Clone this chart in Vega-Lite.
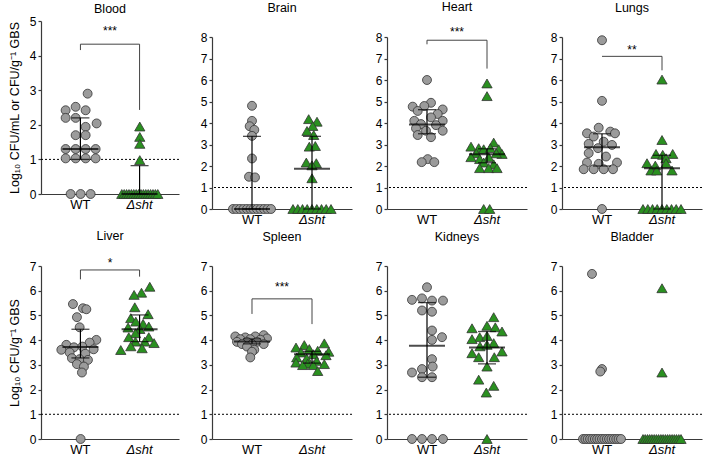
{
"$schema":"https://vega.github.io/schema/vega-lite/v6.json",
"padding":{"left":8,"top":0,"right":0,"bottom":0},
"datasets":{
"pts":[
{"organ":"Blood","group":"WT","value":2.9,"slot":0.7},{"organ":"Blood","group":"WT","value":2.52,"slot":-0.5},{"organ":"Blood","group":"WT","value":2.42,"slot":-1.5},{"organ":"Blood","group":"WT","value":2.42,"slot":0.5},{"organ":"Blood","group":"WT","value":2.2,"slot":-1.5},{"organ":"Blood","group":"WT","value":2.2,"slot":-0.5},{"organ":"Blood","group":"WT","value":2.04,"slot":1.6},{"organ":"Blood","group":"WT","value":1.94,"slot":0.5},{"organ":"Blood","group":"WT","value":1.7,"slot":-0.5},{"organ":"Blood","group":"WT","value":1.7,"slot":0.5},{"organ":"Blood","group":"WT","value":1.3,"slot":-1.5},{"organ":"Blood","group":"WT","value":1.3,"slot":-0.5},{"organ":"Blood","group":"WT","value":1.3,"slot":0.5},{"organ":"Blood","group":"WT","value":1.3,"slot":1.5},{"organ":"Blood","group":"WT","value":1.03,"slot":-1.5},{"organ":"Blood","group":"WT","value":1.03,"slot":-0.5},{"organ":"Blood","group":"WT","value":1.03,"slot":0.5},{"organ":"Blood","group":"WT","value":1.03,"slot":1.5},{"organ":"Blood","group":"WT","value":0,"slot":-1},{"organ":"Blood","group":"WT","value":0,"slot":0},{"organ":"Blood","group":"WT","value":0,"slot":1},
{"organ":"Blood","group":"Δsht","value":1.95,"slot":0},{"organ":"Blood","group":"Δsht","value":1.65,"slot":0},{"organ":"Blood","group":"Δsht","value":1.45,"slot":0},{"organ":"Blood","group":"Δsht","value":0.98,"slot":0},
{"organ":"Blood","group":"Δsht","value":0,"slot":-1.8},{"organ":"Blood","group":"Δsht","value":0,"slot":-1.56},{"organ":"Blood","group":"Δsht","value":0,"slot":-1.32},{"organ":"Blood","group":"Δsht","value":0,"slot":-1.08},{"organ":"Blood","group":"Δsht","value":0,"slot":-0.84},{"organ":"Blood","group":"Δsht","value":0,"slot":-0.6},{"organ":"Blood","group":"Δsht","value":0,"slot":-0.36},{"organ":"Blood","group":"Δsht","value":0,"slot":-0.12},{"organ":"Blood","group":"Δsht","value":0,"slot":0.12},{"organ":"Blood","group":"Δsht","value":0,"slot":0.36},{"organ":"Blood","group":"Δsht","value":0,"slot":0.6},{"organ":"Blood","group":"Δsht","value":0,"slot":0.84},{"organ":"Blood","group":"Δsht","value":0,"slot":1.08},{"organ":"Blood","group":"Δsht","value":0,"slot":1.32},{"organ":"Blood","group":"Δsht","value":0,"slot":1.56},{"organ":"Blood","group":"Δsht","value":0,"slot":1.8},

{"organ":"Brain","group":"WT","value":4.8,"slot":0},{"organ":"Brain","group":"WT","value":4.1,"slot":0},{"organ":"Brain","group":"WT","value":3.85,"slot":-0.23},{"organ":"Brain","group":"WT","value":3.68,"slot":0.23},{"organ":"Brain","group":"WT","value":3.4,"slot":0},{"organ":"Brain","group":"WT","value":2.35,"slot":0},{"organ":"Brain","group":"WT","value":1.5,"slot":-0.3},{"organ":"Brain","group":"WT","value":1.47,"slot":0.3},
{"organ":"Brain","group":"WT","value":0,"slot":-1.9},{"organ":"Brain","group":"WT","value":0,"slot":-1.55},{"organ":"Brain","group":"WT","value":0,"slot":-1.2},{"organ":"Brain","group":"WT","value":0,"slot":-0.85},{"organ":"Brain","group":"WT","value":0,"slot":-0.5},{"organ":"Brain","group":"WT","value":0,"slot":-0.15},{"organ":"Brain","group":"WT","value":0,"slot":0.15},{"organ":"Brain","group":"WT","value":0,"slot":0.5},{"organ":"Brain","group":"WT","value":0,"slot":0.85},{"organ":"Brain","group":"WT","value":0,"slot":1.2},{"organ":"Brain","group":"WT","value":0,"slot":1.55},{"organ":"Brain","group":"WT","value":0,"slot":1.9},
{"organ":"Brain","group":"Δsht","value":4.18,"slot":-0.33},{"organ":"Brain","group":"Δsht","value":4.06,"slot":0.5},{"organ":"Brain","group":"Δsht","value":3.86,"slot":0.07},{"organ":"Brain","group":"Δsht","value":3.63,"slot":-0.5},{"organ":"Brain","group":"Δsht","value":3.44,"slot":0.17},{"organ":"Brain","group":"Δsht","value":2.9,"slot":-0.27},{"organ":"Brain","group":"Δsht","value":2.93,"slot":0.33},{"organ":"Brain","group":"Δsht","value":2.16,"slot":-0.57},{"organ":"Brain","group":"Δsht","value":2.13,"slot":0.43},{"organ":"Brain","group":"Δsht","value":2.03,"slot":0},{"organ":"Brain","group":"Δsht","value":1.43,"slot":0},
{"organ":"Brain","group":"Δsht","value":0,"slot":-1.9},{"organ":"Brain","group":"Δsht","value":0,"slot":-1.42},{"organ":"Brain","group":"Δsht","value":0,"slot":-0.95},{"organ":"Brain","group":"Δsht","value":0,"slot":-0.48},{"organ":"Brain","group":"Δsht","value":0,"slot":0},{"organ":"Brain","group":"Δsht","value":0,"slot":0.48},{"organ":"Brain","group":"Δsht","value":0,"slot":0.95},{"organ":"Brain","group":"Δsht","value":0,"slot":1.42},{"organ":"Brain","group":"Δsht","value":0,"slot":1.9},

{"organ":"Heart","group":"WT","value":6.0,"slot":0},{"organ":"Heart","group":"WT","value":4.94,"slot":0.4},{"organ":"Heart","group":"WT","value":4.79,"slot":-0.27},{"organ":"Heart","group":"WT","value":4.76,"slot":-1.43},{"organ":"Heart","group":"WT","value":4.63,"slot":1.57},{"organ":"Heart","group":"WT","value":4.56,"slot":-0.93},{"organ":"Heart","group":"WT","value":4.42,"slot":1.07},{"organ":"Heart","group":"WT","value":4.26,"slot":0.4},{"organ":"Heart","group":"WT","value":4.1,"slot":-1.27},{"organ":"Heart","group":"WT","value":3.95,"slot":-0.6},{"organ":"Heart","group":"WT","value":4.1,"slot":1.57},{"organ":"Heart","group":"WT","value":3.9,"slot":0.9},{"organ":"Heart","group":"WT","value":3.75,"slot":-1.1},{"organ":"Heart","group":"WT","value":3.64,"slot":1.57},{"organ":"Heart","group":"WT","value":3.64,"slot":-0.1},{"organ":"Heart","group":"WT","value":3.44,"slot":-0.93},{"organ":"Heart","group":"WT","value":3.34,"slot":0.4},{"organ":"Heart","group":"WT","value":2.32,"slot":0.07},{"organ":"Heart","group":"WT","value":2.18,"slot":-0.53},{"organ":"Heart","group":"WT","value":2.18,"slot":0.73},
{"organ":"Heart","group":"Δsht","value":5.84,"slot":0},{"organ":"Heart","group":"Δsht","value":5.25,"slot":0},{"organ":"Heart","group":"Δsht","value":3.09,"slot":0.67},{"organ":"Heart","group":"Δsht","value":2.9,"slot":-1.6},{"organ":"Heart","group":"Δsht","value":2.83,"slot":-0.83},{"organ":"Heart","group":"Δsht","value":2.78,"slot":-0.33},{"organ":"Heart","group":"Δsht","value":2.83,"slot":0.33},{"organ":"Heart","group":"Δsht","value":2.78,"slot":1.17},{"organ":"Heart","group":"Δsht","value":2.59,"slot":-1.07},{"organ":"Heart","group":"Δsht","value":2.56,"slot":1.5},{"organ":"Heart","group":"Δsht","value":2.59,"slot":0.93},{"organ":"Heart","group":"Δsht","value":2.41,"slot":-1.6},{"organ":"Heart","group":"Δsht","value":2.32,"slot":-0.73},{"organ":"Heart","group":"Δsht","value":2.41,"slot":0.17},{"organ":"Heart","group":"Δsht","value":2.16,"slot":-0.33},{"organ":"Heart","group":"Δsht","value":2.08,"slot":0.67},{"organ":"Heart","group":"Δsht","value":1.9,"slot":-0.73},{"organ":"Heart","group":"Δsht","value":1.9,"slot":0.17},{"organ":"Heart","group":"Δsht","value":1.9,"slot":1.0},{"organ":"Heart","group":"Δsht","value":0,"slot":-0.33},{"organ":"Heart","group":"Δsht","value":0,"slot":0.27},

{"organ":"Lungs","group":"WT","value":7.85,"slot":0},{"organ":"Lungs","group":"WT","value":5.03,"slot":0},{"organ":"Lungs","group":"WT","value":3.78,"slot":-0.33},{"organ":"Lungs","group":"WT","value":3.6,"slot":0.83},{"organ":"Lungs","group":"WT","value":3.52,"slot":-1.5},{"organ":"Lungs","group":"WT","value":3.52,"slot":1.3},{"organ":"Lungs","group":"WT","value":3.37,"slot":-0.83},{"organ":"Lungs","group":"WT","value":3.13,"slot":0.17},{"organ":"Lungs","group":"WT","value":3.03,"slot":-1.33},{"organ":"Lungs","group":"WT","value":2.98,"slot":1.0},{"organ":"Lungs","group":"WT","value":2.83,"slot":-0.4},{"organ":"Lungs","group":"WT","value":2.6,"slot":-1.33},{"organ":"Lungs","group":"WT","value":2.44,"slot":0.4},{"organ":"Lungs","group":"WT","value":2.16,"slot":-1.5},{"organ":"Lungs","group":"WT","value":2.16,"slot":1.5},{"organ":"Lungs","group":"WT","value":2.1,"slot":-0.33},{"organ":"Lungs","group":"WT","value":1.85,"slot":-1.83},{"organ":"Lungs","group":"WT","value":1.85,"slot":-0.83},{"organ":"Lungs","group":"WT","value":1.85,"slot":0.17},{"organ":"Lungs","group":"WT","value":1.85,"slot":1.1},{"organ":"Lungs","group":"WT","value":0,"slot":0},
{"organ":"Lungs","group":"Δsht","value":6.02,"slot":0},{"organ":"Lungs","group":"Δsht","value":3.21,"slot":0},{"organ":"Lungs","group":"Δsht","value":2.56,"slot":-0.6},{"organ":"Lungs","group":"Δsht","value":2.56,"slot":1.07},{"organ":"Lungs","group":"Δsht","value":2.52,"slot":0.07},{"organ":"Lungs","group":"Δsht","value":2.36,"slot":0.4},{"organ":"Lungs","group":"Δsht","value":2.13,"slot":-1.5},{"organ":"Lungs","group":"Δsht","value":2.02,"slot":-0.67},{"organ":"Lungs","group":"Δsht","value":2.13,"slot":0.4},{"organ":"Lungs","group":"Δsht","value":1.79,"slot":-1.1},{"organ":"Lungs","group":"Δsht","value":1.79,"slot":-0.53},{"organ":"Lungs","group":"Δsht","value":1.79,"slot":1.0},
{"organ":"Lungs","group":"Δsht","value":0,"slot":-1.9},{"organ":"Lungs","group":"Δsht","value":0,"slot":-1.42},{"organ":"Lungs","group":"Δsht","value":0,"slot":-0.95},{"organ":"Lungs","group":"Δsht","value":0,"slot":-0.48},{"organ":"Lungs","group":"Δsht","value":0,"slot":0},{"organ":"Lungs","group":"Δsht","value":0,"slot":0.48},{"organ":"Lungs","group":"Δsht","value":0,"slot":0.95},{"organ":"Lungs","group":"Δsht","value":0,"slot":1.42},{"organ":"Lungs","group":"Δsht","value":0,"slot":1.9},

{"organ":"Liver","group":"WT","value":5.46,"slot":-0.77},{"organ":"Liver","group":"WT","value":5.29,"slot":0.23},{"organ":"Liver","group":"WT","value":5.25,"slot":0.57},{"organ":"Liver","group":"WT","value":4.93,"slot":-0.37},{"organ":"Liver","group":"WT","value":4.52,"slot":-0.1},{"organ":"Liver","group":"WT","value":4.01,"slot":1.57},{"organ":"Liver","group":"WT","value":3.9,"slot":0.9},{"organ":"Liver","group":"WT","value":3.81,"slot":-1.43},{"organ":"Liver","group":"WT","value":3.71,"slot":-0.67},{"organ":"Liver","group":"WT","value":3.74,"slot":0.17},{"organ":"Liver","group":"WT","value":3.63,"slot":1.3},{"organ":"Liver","group":"WT","value":3.61,"slot":-1.93},{"organ":"Liver","group":"WT","value":3.5,"slot":-1.1},{"organ":"Liver","group":"WT","value":3.45,"slot":0.47},{"organ":"Liver","group":"WT","value":3.27,"slot":-0.87},{"organ":"Liver","group":"WT","value":3.23,"slot":-0.1},{"organ":"Liver","group":"WT","value":3.2,"slot":0.73},{"organ":"Liver","group":"WT","value":3.03,"slot":-0.37},{"organ":"Liver","group":"WT","value":2.93,"slot":0.33},{"organ":"Liver","group":"WT","value":2.69,"slot":0.13},{"organ":"Liver","group":"WT","value":0,"slot":0},
{"organ":"Liver","group":"Δsht","value":6.16,"slot":1.0},{"organ":"Liver","group":"Δsht","value":5.92,"slot":0.17},{"organ":"Liver","group":"Δsht","value":5.83,"slot":-0.57},{"organ":"Liver","group":"Δsht","value":5.33,"slot":-0.5},{"organ":"Liver","group":"Δsht","value":5.05,"slot":0.83},{"organ":"Liver","group":"Δsht","value":4.89,"slot":-0.9},{"organ":"Liver","group":"Δsht","value":4.75,"slot":-0.4},{"organ":"Liver","group":"Δsht","value":4.66,"slot":0.33},{"organ":"Liver","group":"Δsht","value":4.51,"slot":-1.17},{"organ":"Liver","group":"Δsht","value":4.55,"slot":0.9},{"organ":"Liver","group":"Δsht","value":4.45,"slot":0},{"organ":"Liver","group":"Δsht","value":4.28,"slot":-0.43},{"organ":"Liver","group":"Δsht","value":4.12,"slot":-1.1},{"organ":"Liver","group":"Δsht","value":4.12,"slot":0.9},{"organ":"Liver","group":"Δsht","value":3.94,"slot":-0.43},{"organ":"Liver","group":"Δsht","value":3.94,"slot":0.5},{"organ":"Liver","group":"Δsht","value":3.88,"slot":1.43},{"organ":"Liver","group":"Δsht","value":3.67,"slot":0.23},{"organ":"Liver","group":"Δsht","value":3.6,"slot":-1.9},{"organ":"Liver","group":"Δsht","value":3.75,"slot":-0.9},

{"organ":"Spleen","group":"WT","value":4.2,"slot":1.17},{"organ":"Spleen","group":"WT","value":4.15,"slot":-1.67},{"organ":"Spleen","group":"WT","value":4.11,"slot":-0.67},{"organ":"Spleen","group":"WT","value":4.15,"slot":0.33},{"organ":"Spleen","group":"WT","value":4.07,"slot":1.5},{"organ":"Spleen","group":"WT","value":4.04,"slot":-1.17},{"organ":"Spleen","group":"WT","value":4.04,"slot":-0.17},{"organ":"Spleen","group":"WT","value":4.02,"slot":0.83},{"organ":"Spleen","group":"WT","value":3.93,"slot":-1.5},{"organ":"Spleen","group":"WT","value":3.93,"slot":-0.5},{"organ":"Spleen","group":"WT","value":3.93,"slot":0.5},{"organ":"Spleen","group":"WT","value":3.84,"slot":-1.0},{"organ":"Spleen","group":"WT","value":3.84,"slot":0},{"organ":"Spleen","group":"WT","value":3.84,"slot":1.17},{"organ":"Spleen","group":"WT","value":3.74,"slot":-0.5},{"organ":"Spleen","group":"WT","value":3.61,"slot":0.23},{"organ":"Spleen","group":"WT","value":3.53,"slot":0},{"organ":"Spleen","group":"WT","value":3.3,"slot":-0.17},
{"organ":"Spleen","group":"Δsht","value":3.87,"slot":1.23},{"organ":"Spleen","group":"Δsht","value":3.8,"slot":-0.77},{"organ":"Spleen","group":"Δsht","value":3.7,"slot":-1.6},{"organ":"Spleen","group":"Δsht","value":3.64,"slot":-0.27},{"organ":"Spleen","group":"Δsht","value":3.57,"slot":0.57},{"organ":"Spleen","group":"Δsht","value":3.53,"slot":1.67},{"organ":"Spleen","group":"Δsht","value":3.5,"slot":-1.1},{"organ":"Spleen","group":"Δsht","value":3.43,"slot":0.13},{"organ":"Spleen","group":"Δsht","value":3.39,"slot":1.4},{"organ":"Spleen","group":"Δsht","value":3.3,"slot":-1.53},{"organ":"Spleen","group":"Δsht","value":3.26,"slot":-0.53},{"organ":"Spleen","group":"Δsht","value":3.16,"slot":0.47},{"organ":"Spleen","group":"Δsht","value":3.09,"slot":-1.6},{"organ":"Spleen","group":"Δsht","value":3.05,"slot":-0.43},{"organ":"Spleen","group":"Δsht","value":2.99,"slot":-0.93},{"organ":"Spleen","group":"Δsht","value":3.03,"slot":1.23},{"organ":"Spleen","group":"Δsht","value":2.99,"slot":0.13},{"organ":"Spleen","group":"Δsht","value":2.75,"slot":0.57},

{"organ":"Kidneys","group":"WT","value":6.14,"slot":0},{"organ":"Kidneys","group":"WT","value":5.63,"slot":-1.5},{"organ":"Kidneys","group":"WT","value":5.69,"slot":-0.5},{"organ":"Kidneys","group":"WT","value":5.6,"slot":0.5},{"organ":"Kidneys","group":"WT","value":5.6,"slot":1.6},{"organ":"Kidneys","group":"WT","value":5.2,"slot":-0.5},{"organ":"Kidneys","group":"WT","value":5.15,"slot":0.5},{"organ":"Kidneys","group":"WT","value":4.39,"slot":0.5},{"organ":"Kidneys","group":"WT","value":4.12,"slot":1.5},{"organ":"Kidneys","group":"WT","value":4.01,"slot":0.5},{"organ":"Kidneys","group":"WT","value":3.23,"slot":0.5},{"organ":"Kidneys","group":"WT","value":2.93,"slot":0.57},{"organ":"Kidneys","group":"WT","value":2.83,"slot":-0.5},{"organ":"Kidneys","group":"WT","value":2.69,"slot":-1.5},{"organ":"Kidneys","group":"WT","value":2.5,"slot":-0.5},{"organ":"Kidneys","group":"WT","value":2.5,"slot":0.5},{"organ":"Kidneys","group":"WT","value":0,"slot":-1.5},{"organ":"Kidneys","group":"WT","value":0,"slot":-0.5},{"organ":"Kidneys","group":"WT","value":0,"slot":0.5},{"organ":"Kidneys","group":"WT","value":0,"slot":1.6},
{"organ":"Kidneys","group":"Δsht","value":4.93,"slot":0.67},{"organ":"Kidneys","group":"Δsht","value":4.58,"slot":0},{"organ":"Kidneys","group":"Δsht","value":4.52,"slot":0.83},{"organ":"Kidneys","group":"Δsht","value":4.48,"slot":-1.5},{"organ":"Kidneys","group":"Δsht","value":4.35,"slot":1.5},{"organ":"Kidneys","group":"Δsht","value":4.12,"slot":-0.73},{"organ":"Kidneys","group":"Δsht","value":4.04,"slot":-1.5},{"organ":"Kidneys","group":"Δsht","value":4.17,"slot":0},{"organ":"Kidneys","group":"Δsht","value":3.88,"slot":0.67},{"organ":"Kidneys","group":"Δsht","value":3.75,"slot":-0.7},{"organ":"Kidneys","group":"Δsht","value":3.81,"slot":0},{"organ":"Kidneys","group":"Δsht","value":3.47,"slot":-1.5},{"organ":"Kidneys","group":"Δsht","value":3.54,"slot":1.5},{"organ":"Kidneys","group":"Δsht","value":3.31,"slot":-0.83},{"organ":"Kidneys","group":"Δsht","value":3.31,"slot":0.73},{"organ":"Kidneys","group":"Δsht","value":2.93,"slot":0},{"organ":"Kidneys","group":"Δsht","value":2.4,"slot":-0.83},{"organ":"Kidneys","group":"Δsht","value":2.15,"slot":0.67},{"organ":"Kidneys","group":"Δsht","value":1.88,"slot":-0.07},{"organ":"Kidneys","group":"Δsht","value":0,"slot":0},

{"organ":"Bladder","group":"WT","value":6.68,"slot":-1.0},{"organ":"Bladder","group":"WT","value":2.83,"slot":0},{"organ":"Bladder","group":"WT","value":2.73,"slot":-0.17},
{"organ":"Bladder","group":"WT","value":0,"slot":-1.9},{"organ":"Bladder","group":"WT","value":0,"slot":-1.66},{"organ":"Bladder","group":"WT","value":0,"slot":-1.43},{"organ":"Bladder","group":"WT","value":0,"slot":-1.19},{"organ":"Bladder","group":"WT","value":0,"slot":-0.95},{"organ":"Bladder","group":"WT","value":0,"slot":-0.71},{"organ":"Bladder","group":"WT","value":0,"slot":-0.48},{"organ":"Bladder","group":"WT","value":0,"slot":-0.24},{"organ":"Bladder","group":"WT","value":0,"slot":0},{"organ":"Bladder","group":"WT","value":0,"slot":0.24},{"organ":"Bladder","group":"WT","value":0,"slot":0.48},{"organ":"Bladder","group":"WT","value":0,"slot":0.71},{"organ":"Bladder","group":"WT","value":0,"slot":0.95},{"organ":"Bladder","group":"WT","value":0,"slot":1.19},{"organ":"Bladder","group":"WT","value":0,"slot":1.43},{"organ":"Bladder","group":"WT","value":0,"slot":1.66},{"organ":"Bladder","group":"WT","value":0,"slot":1.9},
{"organ":"Bladder","group":"Δsht","value":6.1,"slot":0},{"organ":"Bladder","group":"Δsht","value":2.69,"slot":0},
{"organ":"Bladder","group":"Δsht","value":0,"slot":-1.9},{"organ":"Bladder","group":"Δsht","value":0,"slot":-1.68},{"organ":"Bladder","group":"Δsht","value":0,"slot":-1.45},{"organ":"Bladder","group":"Δsht","value":0,"slot":-1.23},{"organ":"Bladder","group":"Δsht","value":0,"slot":-1.01},{"organ":"Bladder","group":"Δsht","value":0,"slot":-0.78},{"organ":"Bladder","group":"Δsht","value":0,"slot":-0.56},{"organ":"Bladder","group":"Δsht","value":0,"slot":-0.34},{"organ":"Bladder","group":"Δsht","value":0,"slot":-0.11},{"organ":"Bladder","group":"Δsht","value":0,"slot":0.11},{"organ":"Bladder","group":"Δsht","value":0,"slot":0.34},{"organ":"Bladder","group":"Δsht","value":0,"slot":0.56},{"organ":"Bladder","group":"Δsht","value":0,"slot":0.78},{"organ":"Bladder","group":"Δsht","value":0,"slot":1.01},{"organ":"Bladder","group":"Δsht","value":0,"slot":1.23},{"organ":"Bladder","group":"Δsht","value":0,"slot":1.45},{"organ":"Bladder","group":"Δsht","value":0,"slot":1.68},{"organ":"Bladder","group":"Δsht","value":0,"slot":1.9}
],
"stats":[
{"organ":"Blood","group":"WT","median":1.3,"q1":1.0,"q3":2.2},{"organ":"Blood","group":"Δsht","median":0,"q1":0,"q3":0.82},
{"organ":"Brain","group":"WT","median":0,"q1":0,"q3":3.38},{"organ":"Brain","group":"Δsht","median":1.87,"q1":0,"q3":3.38},
{"organ":"Heart","group":"WT","median":3.93,"q1":3.5,"q3":4.62},{"organ":"Heart","group":"Δsht","median":2.55,"q1":2.15,"q3":2.8},
{"organ":"Lungs","group":"WT","median":2.87,"q1":2.0,"q3":3.5},{"organ":"Lungs","group":"Δsht","median":1.9,"q1":0,"q3":2.5},
{"organ":"Liver","group":"WT","median":3.72,"q1":3.28,"q3":4.44},{"organ":"Liver","group":"Δsht","median":4.44,"q1":3.94,"q3":5.02},
{"organ":"Spleen","group":"WT","median":3.95,"q1":3.85,"q3":4.05},{"organ":"Spleen","group":"Δsht","median":3.43,"q1":3.07,"q3":3.55},
{"organ":"Kidneys","group":"WT","median":3.77,"q1":2.5,"q3":5.52},{"organ":"Kidneys","group":"Δsht","median":3.7,"q1":3.04,"q3":4.35}
],
"brackets":[
{"organ":"Blood","group":"WT","y":4.16,"k":1},{"organ":"Blood","group":"WT","y":4.33,"k":2},{"organ":"Blood","group":"Δsht","y":4.33,"k":3},{"organ":"Blood","group":"Δsht","y":2.43,"k":4},
{"organ":"Heart","group":"WT","y":7.66,"k":1},{"organ":"Heart","group":"WT","y":7.85,"k":2},{"organ":"Heart","group":"Δsht","y":7.85,"k":3},{"organ":"Heart","group":"Δsht","y":6.53,"k":4},
{"organ":"Lungs","group":"WT","y":7.1,"k":2},{"organ":"Lungs","group":"Δsht","y":7.1,"k":3},{"organ":"Lungs","group":"Δsht","y":6.45,"k":4},
{"organ":"Liver","group":"WT","y":6.46,"k":1},{"organ":"Liver","group":"WT","y":6.84,"k":2},{"organ":"Liver","group":"Δsht","y":6.84,"k":3},{"organ":"Liver","group":"Δsht","y":6.57,"k":4},
{"organ":"Spleen","group":"WT","y":5.06,"k":1},{"organ":"Spleen","group":"WT","y":5.67,"k":2},{"organ":"Spleen","group":"Δsht","y":5.67,"k":3},{"organ":"Spleen","group":"Δsht","y":4.65,"k":4}
],
"stars":[
{"organ":"Blood","label":"***","y":4.72},{"organ":"Heart","label":"***","y":8.22},{"organ":"Lungs","label":"**","y":7.38},{"organ":"Liver","label":"*","y":7.12},{"organ":"Spleen","label":"***","y":6.16}
]
},
"config":{
"view":{"stroke":null},
"font":"Liberation Sans",
"axis":{"domainColor":"#3a3a3a","tickColor":"#3a3a3a","labelColor":"#000","grid":false,"labelFont":"Liberation Sans","titleFont":"Liberation Sans","titleFontWeight":"normal","titleColor":"#000","domainWidth":1.2,"tickWidth":1.2,"labelOverlap":false},
"title":{"font":"Liberation Sans","fontSize":12.5,"fontWeight":"normal","color":"#000"},
"style":{"group-title":{"fontWeight":"normal","fontSize":12.5,"font":"Liberation Sans"}}
},
"hconcat":[
{"vconcat":[
{"width":138,"height":173,"title":{"text":"Blood","offset":0,"fontWeight":"normal"},
"layer":[
{"data":{"values":[{}]},"mark":{"type":"rule","strokeDash":[2,2],"color":"#000","strokeWidth":1},"encoding":{"y":{"datum":1,"type":"quantitative"}}},
{"data":{"name":"pts"},"transform":[{"filter":"datum.organ==='Blood'"}],"mark":{"type":"point","filled":true,"stroke":"#333","strokeWidth":0.8,"opacity":1},
"encoding":{"x":{"field":"group","type":"nominal","scale":{"type":"band","domain":["WT","mid","Δsht"],"paddingInner":0,"paddingOuter":0.833},"axis":{"values":["WT","Δsht"],"title":null,"ticks":false,"labelAngle":0,"labelPadding":4,"labelFontSize":13,"labelFontStyle":{"condition":{"test":"datum.value==='Δsht'","value":"italic"},"value":"normal"}}},
"xOffset":{"field":"slot","type":"quantitative","scale":{"domain":[-2.2,2.2],"range":[-7,37]}},
"y":{"field":"value","type":"quantitative","scale":{"domain":[0,5],"nice":false},"axis":{"values":[0,1,2,3,4,5],"tickCount":20,"format":"d","labelOverlap":false,"title":"Log₁₀ CFU/mL or CFU/g⁻¹ GBS","titleFontSize":12.5,"titlePadding":8,"tickSize":3,"labelPadding":2,"labelFontSize":12}},
"fill":{"field":"group","type":"nominal","scale":{"domain":["WT","Δsht"],"range":["#9b9b9b","#2a9020"]},"legend":null},
"shape":{"field":"group","type":"nominal","scale":{"domain":["WT","Δsht"],"range":["circle","triangle-up"]},"legend":null},
"size":{"field":"group","type":"nominal","scale":{"domain":["WT","Δsht"],"range":[80,105]},"legend":null}}},
{"data":{"name":"stats"},"transform":[{"filter":"datum.organ==='Blood'"}],"mark":{"type":"rule","color":"#000","strokeWidth":1.2},"encoding":{"x":{"field":"group","type":"nominal"},"y":{"field":"q1","type":"quantitative"},"y2":{"field":"q3"}}},
{"data":{"name":"stats"},"transform":[{"filter":"datum.organ==='Blood'"}],"mark":{"type":"tick","size":18,"thickness":1.3,"color":"#000"},"encoding":{"x":{"field":"group","type":"nominal"},"y":{"field":"q1","type":"quantitative"}}},
{"data":{"name":"stats"},"transform":[{"filter":"datum.organ==='Blood'"}],"mark":{"type":"tick","size":18,"thickness":1.3,"color":"#000"},"encoding":{"x":{"field":"group","type":"nominal"},"y":{"field":"q3","type":"quantitative"}}},
{"data":{"name":"stats"},"transform":[{"filter":"datum.organ==='Blood'"}],"mark":{"type":"tick","size":36,"thickness":2,"color":"#000"},"encoding":{"x":{"field":"group","type":"nominal"},"y":{"field":"median","type":"quantitative"}}},
{"data":{"name":"brackets"},"transform":[{"filter":"datum.organ==='Blood'"}],"mark":{"type":"line","color":"#444","strokeWidth":1},"encoding":{"x":{"field":"group","type":"nominal"},"y":{"field":"y","type":"quantitative"},"order":{"field":"k","type":"quantitative"}}},
{"data":{"name":"stars"},"transform":[{"filter":"datum.organ==='Blood'"}],"mark":{"type":"text","fontSize":12,"color":"#000","baseline":"middle"},"encoding":{"x":{"datum":"mid","type":"nominal"},"y":{"field":"y","type":"quantitative"},"text":{"field":"label"}}}
]},
{"width":138,"height":173,"title":{"text":"Liver","offset":15,"fontWeight":"normal"},
"layer":[
{"data":{"values":[{}]},"mark":{"type":"rule","strokeDash":[2,2],"color":"#000","strokeWidth":1},"encoding":{"y":{"datum":1,"type":"quantitative"}}},
{"data":{"name":"pts"},"transform":[{"filter":"datum.organ==='Liver'"}],"mark":{"type":"point","filled":true,"stroke":"#333","strokeWidth":0.8,"opacity":1},
"encoding":{"x":{"field":"group","type":"nominal","scale":{"type":"band","domain":["WT","mid","Δsht"],"paddingInner":0,"paddingOuter":0.833},"axis":{"values":["WT","Δsht"],"title":" ","titleFontSize":11,"titlePadding":5,"ticks":false,"labelAngle":0,"labelPadding":4,"labelFontSize":13,"labelFontStyle":{"condition":{"test":"datum.value==='Δsht'","value":"italic"},"value":"normal"}}},
"xOffset":{"field":"slot","type":"quantitative","scale":{"domain":[-2.2,2.2],"range":[-7,37]}},
"y":{"field":"value","type":"quantitative","scale":{"domain":[0,7],"nice":false},"axis":{"values":[0,1,2,3,4,5,6,7],"tickCount":20,"format":"d","labelOverlap":false,"title":"Log₁₀ CFU/g⁻¹ GBS","titleFontSize":12.5,"titlePadding":8,"tickSize":3,"labelPadding":2,"labelFontSize":12}},
"fill":{"field":"group","type":"nominal","scale":{"domain":["WT","Δsht"],"range":["#9b9b9b","#2a9020"]},"legend":null},
"shape":{"field":"group","type":"nominal","scale":{"domain":["WT","Δsht"],"range":["circle","triangle-up"]},"legend":null},
"size":{"field":"group","type":"nominal","scale":{"domain":["WT","Δsht"],"range":[80,105]},"legend":null}}},
{"data":{"name":"stats"},"transform":[{"filter":"datum.organ==='Liver'"}],"mark":{"type":"rule","color":"#000","strokeWidth":1.2},"encoding":{"x":{"field":"group","type":"nominal"},"y":{"field":"q1","type":"quantitative"},"y2":{"field":"q3"}}},
{"data":{"name":"stats"},"transform":[{"filter":"datum.organ==='Liver'"}],"mark":{"type":"tick","size":18,"thickness":1.3,"color":"#000"},"encoding":{"x":{"field":"group","type":"nominal"},"y":{"field":"q1","type":"quantitative"}}},
{"data":{"name":"stats"},"transform":[{"filter":"datum.organ==='Liver'"}],"mark":{"type":"tick","size":18,"thickness":1.3,"color":"#000"},"encoding":{"x":{"field":"group","type":"nominal"},"y":{"field":"q3","type":"quantitative"}}},
{"data":{"name":"stats"},"transform":[{"filter":"datum.organ==='Liver'"}],"mark":{"type":"tick","size":36,"thickness":2,"color":"#000"},"encoding":{"x":{"field":"group","type":"nominal"},"y":{"field":"median","type":"quantitative"}}},
{"data":{"name":"brackets"},"transform":[{"filter":"datum.organ==='Liver'"}],"mark":{"type":"line","color":"#444","strokeWidth":1},"encoding":{"x":{"field":"group","type":"nominal"},"y":{"field":"y","type":"quantitative"},"order":{"field":"k","type":"quantitative"}}},
{"data":{"name":"stars"},"transform":[{"filter":"datum.organ==='Liver'"}],"mark":{"type":"text","fontSize":12,"color":"#000","baseline":"middle"},"encoding":{"x":{"datum":"mid","type":"nominal"},"y":{"field":"y","type":"quantitative"},"text":{"field":"label"}}}
]}
],"spacing":18},
{"vconcat":[
{"hconcat":[
{"width":140,"height":172,"title":{"text":"Brain","offset":17,"fontWeight":"normal"},
"layer":[
{"data":{"values":[{}]},"mark":{"type":"rule","strokeDash":[2,2],"color":"#000","strokeWidth":1},"encoding":{"y":{"datum":1,"type":"quantitative"}}},
{"data":{"name":"pts"},"transform":[{"filter":"datum.organ==='Brain'"}],"mark":{"type":"point","filled":true,"stroke":"#333","strokeWidth":0.8,"opacity":1},
"encoding":{"x":{"field":"group","type":"nominal","scale":{"type":"band","domain":["WT","mid","Δsht"],"paddingInner":0,"paddingOuter":0.833},"axis":{"values":["WT","Δsht"],"title":null,"ticks":false,"labelAngle":0,"labelPadding":4,"labelFontSize":13,"labelFontStyle":{"condition":{"test":"datum.value==='Δsht'","value":"italic"},"value":"normal"}}},
"xOffset":{"field":"slot","type":"quantitative","scale":{"domain":[-2.2,2.2],"range":[-7,37]}},
"y":{"field":"value","type":"quantitative","scale":{"domain":[0,8],"nice":false},"axis":{"values":[0,1,2,3,4,5,6,7,8],"tickCount":20,"format":"d","labelOverlap":false,"title":null,"tickSize":3,"labelPadding":2,"labelFontSize":12}},
"fill":{"field":"group","type":"nominal","scale":{"domain":["WT","Δsht"],"range":["#9b9b9b","#2a9020"]},"legend":null},
"shape":{"field":"group","type":"nominal","scale":{"domain":["WT","Δsht"],"range":["circle","triangle-up"]},"legend":null},
"size":{"field":"group","type":"nominal","scale":{"domain":["WT","Δsht"],"range":[80,105]},"legend":null}}},
{"data":{"name":"stats"},"transform":[{"filter":"datum.organ==='Brain'"}],"mark":{"type":"rule","color":"#000","strokeWidth":1.2},"encoding":{"x":{"field":"group","type":"nominal"},"y":{"field":"q1","type":"quantitative"},"y2":{"field":"q3"}}},
{"data":{"name":"stats"},"transform":[{"filter":"datum.organ==='Brain'"}],"mark":{"type":"tick","size":18,"thickness":1.3,"color":"#000"},"encoding":{"x":{"field":"group","type":"nominal"},"y":{"field":"q1","type":"quantitative"}}},
{"data":{"name":"stats"},"transform":[{"filter":"datum.organ==='Brain'"}],"mark":{"type":"tick","size":18,"thickness":1.3,"color":"#000"},"encoding":{"x":{"field":"group","type":"nominal"},"y":{"field":"q3","type":"quantitative"}}},
{"data":{"name":"stats"},"transform":[{"filter":"datum.organ==='Brain'"}],"mark":{"type":"tick","size":36,"thickness":2,"color":"#000"},"encoding":{"x":{"field":"group","type":"nominal"},"y":{"field":"median","type":"quantitative"}}}
]},
{"width":140,"height":172,"title":{"text":"Heart","offset":13,"fontWeight":"normal"},
"layer":[
{"data":{"values":[{}]},"mark":{"type":"rule","strokeDash":[2,2],"color":"#000","strokeWidth":1},"encoding":{"y":{"datum":1,"type":"quantitative"}}},
{"data":{"name":"pts"},"transform":[{"filter":"datum.organ==='Heart'"}],"mark":{"type":"point","filled":true,"stroke":"#333","strokeWidth":0.8,"opacity":1},
"encoding":{"x":{"field":"group","type":"nominal","scale":{"type":"band","domain":["WT","mid","Δsht"],"paddingInner":0,"paddingOuter":0.833},"axis":{"values":["WT","Δsht"],"title":null,"ticks":false,"labelAngle":0,"labelPadding":4,"labelFontSize":13,"labelFontStyle":{"condition":{"test":"datum.value==='Δsht'","value":"italic"},"value":"normal"}}},
"xOffset":{"field":"slot","type":"quantitative","scale":{"domain":[-2.2,2.2],"range":[-7,37]}},
"y":{"field":"value","type":"quantitative","scale":{"domain":[0,8],"nice":false},"axis":{"values":[0,1,2,3,4,5,6,7,8],"tickCount":20,"format":"d","labelOverlap":false,"title":null,"tickSize":3,"labelPadding":2,"labelFontSize":12}},
"fill":{"field":"group","type":"nominal","scale":{"domain":["WT","Δsht"],"range":["#9b9b9b","#2a9020"]},"legend":null},
"shape":{"field":"group","type":"nominal","scale":{"domain":["WT","Δsht"],"range":["circle","triangle-up"]},"legend":null},
"size":{"field":"group","type":"nominal","scale":{"domain":["WT","Δsht"],"range":[80,105]},"legend":null}}},
{"data":{"name":"stats"},"transform":[{"filter":"datum.organ==='Heart'"}],"mark":{"type":"rule","color":"#000","strokeWidth":1.2},"encoding":{"x":{"field":"group","type":"nominal"},"y":{"field":"q1","type":"quantitative"},"y2":{"field":"q3"}}},
{"data":{"name":"stats"},"transform":[{"filter":"datum.organ==='Heart'"}],"mark":{"type":"tick","size":18,"thickness":1.3,"color":"#000"},"encoding":{"x":{"field":"group","type":"nominal"},"y":{"field":"q1","type":"quantitative"}}},
{"data":{"name":"stats"},"transform":[{"filter":"datum.organ==='Heart'"}],"mark":{"type":"tick","size":18,"thickness":1.3,"color":"#000"},"encoding":{"x":{"field":"group","type":"nominal"},"y":{"field":"q3","type":"quantitative"}}},
{"data":{"name":"stats"},"transform":[{"filter":"datum.organ==='Heart'"}],"mark":{"type":"tick","size":36,"thickness":2,"color":"#000"},"encoding":{"x":{"field":"group","type":"nominal"},"y":{"field":"median","type":"quantitative"}}},
{"data":{"name":"brackets"},"transform":[{"filter":"datum.organ==='Heart'"}],"mark":{"type":"line","color":"#444","strokeWidth":1},"encoding":{"x":{"field":"group","type":"nominal"},"y":{"field":"y","type":"quantitative"},"order":{"field":"k","type":"quantitative"}}},
{"data":{"name":"stars"},"transform":[{"filter":"datum.organ==='Heart'"}],"mark":{"type":"text","fontSize":12,"color":"#000","baseline":"middle"},"encoding":{"x":{"datum":"mid","type":"nominal"},"y":{"field":"y","type":"quantitative"},"text":{"field":"label"}}}
]},
{"width":140,"height":172,"title":{"text":"Lungs","offset":17,"fontWeight":"normal"},
"layer":[
{"data":{"values":[{}]},"mark":{"type":"rule","strokeDash":[2,2],"color":"#000","strokeWidth":1},"encoding":{"y":{"datum":1,"type":"quantitative"}}},
{"data":{"name":"pts"},"transform":[{"filter":"datum.organ==='Lungs'"}],"mark":{"type":"point","filled":true,"stroke":"#333","strokeWidth":0.8,"opacity":1},
"encoding":{"x":{"field":"group","type":"nominal","scale":{"type":"band","domain":["WT","mid","Δsht"],"paddingInner":0,"paddingOuter":0.833},"axis":{"values":["WT","Δsht"],"title":null,"ticks":false,"labelAngle":0,"labelPadding":4,"labelFontSize":13,"labelFontStyle":{"condition":{"test":"datum.value==='Δsht'","value":"italic"},"value":"normal"}}},
"xOffset":{"field":"slot","type":"quantitative","scale":{"domain":[-2.2,2.2],"range":[-7,37]}},
"y":{"field":"value","type":"quantitative","scale":{"domain":[0,8],"nice":false},"axis":{"values":[0,1,2,3,4,5,6,7,8],"tickCount":20,"format":"d","labelOverlap":false,"title":null,"tickSize":3,"labelPadding":2,"labelFontSize":12}},
"fill":{"field":"group","type":"nominal","scale":{"domain":["WT","Δsht"],"range":["#9b9b9b","#2a9020"]},"legend":null},
"shape":{"field":"group","type":"nominal","scale":{"domain":["WT","Δsht"],"range":["circle","triangle-up"]},"legend":null},
"size":{"field":"group","type":"nominal","scale":{"domain":["WT","Δsht"],"range":[80,105]},"legend":null}}},
{"data":{"name":"stats"},"transform":[{"filter":"datum.organ==='Lungs'"}],"mark":{"type":"rule","color":"#000","strokeWidth":1.2},"encoding":{"x":{"field":"group","type":"nominal"},"y":{"field":"q1","type":"quantitative"},"y2":{"field":"q3"}}},
{"data":{"name":"stats"},"transform":[{"filter":"datum.organ==='Lungs'"}],"mark":{"type":"tick","size":18,"thickness":1.3,"color":"#000"},"encoding":{"x":{"field":"group","type":"nominal"},"y":{"field":"q1","type":"quantitative"}}},
{"data":{"name":"stats"},"transform":[{"filter":"datum.organ==='Lungs'"}],"mark":{"type":"tick","size":18,"thickness":1.3,"color":"#000"},"encoding":{"x":{"field":"group","type":"nominal"},"y":{"field":"q3","type":"quantitative"}}},
{"data":{"name":"stats"},"transform":[{"filter":"datum.organ==='Lungs'"}],"mark":{"type":"tick","size":36,"thickness":2,"color":"#000"},"encoding":{"x":{"field":"group","type":"nominal"},"y":{"field":"median","type":"quantitative"}}},
{"data":{"name":"brackets"},"transform":[{"filter":"datum.organ==='Lungs'"}],"mark":{"type":"line","color":"#444","strokeWidth":1},"encoding":{"x":{"field":"group","type":"nominal"},"y":{"field":"y","type":"quantitative"},"order":{"field":"k","type":"quantitative"}}},
{"data":{"name":"stars"},"transform":[{"filter":"datum.organ==='Lungs'"}],"mark":{"type":"text","fontSize":12,"color":"#000","baseline":"middle"},"encoding":{"x":{"datum":"mid","type":"nominal"},"y":{"field":"y","type":"quantitative"},"text":{"field":"label"}}}
]}
],"spacing":22},
{"hconcat":[
{"width":140,"height":173,"title":{"text":"Spleen","offset":17,"fontWeight":"normal"},
"layer":[
{"data":{"values":[{}]},"mark":{"type":"rule","strokeDash":[2,2],"color":"#000","strokeWidth":1},"encoding":{"y":{"datum":1,"type":"quantitative"}}},
{"data":{"name":"pts"},"transform":[{"filter":"datum.organ==='Spleen'"}],"mark":{"type":"point","filled":true,"stroke":"#333","strokeWidth":0.8,"opacity":1},
"encoding":{"x":{"field":"group","type":"nominal","scale":{"type":"band","domain":["WT","mid","Δsht"],"paddingInner":0,"paddingOuter":0.833},"axis":{"values":["WT","Δsht"],"title":null,"ticks":false,"labelAngle":0,"labelPadding":4,"labelFontSize":13,"labelFontStyle":{"condition":{"test":"datum.value==='Δsht'","value":"italic"},"value":"normal"}}},
"xOffset":{"field":"slot","type":"quantitative","scale":{"domain":[-2.2,2.2],"range":[-7,37]}},
"y":{"field":"value","type":"quantitative","scale":{"domain":[0,7],"nice":false},"axis":{"values":[0,1,2,3,4,5,6,7],"tickCount":20,"format":"d","labelOverlap":false,"title":null,"tickSize":3,"labelPadding":2,"labelFontSize":12}},
"fill":{"field":"group","type":"nominal","scale":{"domain":["WT","Δsht"],"range":["#9b9b9b","#2a9020"]},"legend":null},
"shape":{"field":"group","type":"nominal","scale":{"domain":["WT","Δsht"],"range":["circle","triangle-up"]},"legend":null},
"size":{"field":"group","type":"nominal","scale":{"domain":["WT","Δsht"],"range":[80,105]},"legend":null}}},
{"data":{"name":"stats"},"transform":[{"filter":"datum.organ==='Spleen'"}],"mark":{"type":"rule","color":"#000","strokeWidth":1.2},"encoding":{"x":{"field":"group","type":"nominal"},"y":{"field":"q1","type":"quantitative"},"y2":{"field":"q3"}}},
{"data":{"name":"stats"},"transform":[{"filter":"datum.organ==='Spleen'"}],"mark":{"type":"tick","size":18,"thickness":1.3,"color":"#000"},"encoding":{"x":{"field":"group","type":"nominal"},"y":{"field":"q1","type":"quantitative"}}},
{"data":{"name":"stats"},"transform":[{"filter":"datum.organ==='Spleen'"}],"mark":{"type":"tick","size":18,"thickness":1.3,"color":"#000"},"encoding":{"x":{"field":"group","type":"nominal"},"y":{"field":"q3","type":"quantitative"}}},
{"data":{"name":"stats"},"transform":[{"filter":"datum.organ==='Spleen'"}],"mark":{"type":"tick","size":36,"thickness":2,"color":"#000"},"encoding":{"x":{"field":"group","type":"nominal"},"y":{"field":"median","type":"quantitative"}}},
{"data":{"name":"brackets"},"transform":[{"filter":"datum.organ==='Spleen'"}],"mark":{"type":"line","color":"#444","strokeWidth":1},"encoding":{"x":{"field":"group","type":"nominal"},"y":{"field":"y","type":"quantitative"},"order":{"field":"k","type":"quantitative"}}},
{"data":{"name":"stars"},"transform":[{"filter":"datum.organ==='Spleen'"}],"mark":{"type":"text","fontSize":12,"color":"#000","baseline":"middle"},"encoding":{"x":{"datum":"mid","type":"nominal"},"y":{"field":"y","type":"quantitative"},"text":{"field":"label"}}}
]},
{"width":140,"height":173,"title":{"text":"Kidneys","offset":17,"fontWeight":"normal"},
"layer":[
{"data":{"values":[{}]},"mark":{"type":"rule","strokeDash":[2,2],"color":"#000","strokeWidth":1},"encoding":{"y":{"datum":1,"type":"quantitative"}}},
{"data":{"name":"pts"},"transform":[{"filter":"datum.organ==='Kidneys'"}],"mark":{"type":"point","filled":true,"stroke":"#333","strokeWidth":0.8,"opacity":1},
"encoding":{"x":{"field":"group","type":"nominal","scale":{"type":"band","domain":["WT","mid","Δsht"],"paddingInner":0,"paddingOuter":0.833},"axis":{"values":["WT","Δsht"],"title":null,"ticks":false,"labelAngle":0,"labelPadding":4,"labelFontSize":13,"labelFontStyle":{"condition":{"test":"datum.value==='Δsht'","value":"italic"},"value":"normal"}}},
"xOffset":{"field":"slot","type":"quantitative","scale":{"domain":[-2.2,2.2],"range":[-7,37]}},
"y":{"field":"value","type":"quantitative","scale":{"domain":[0,7],"nice":false},"axis":{"values":[0,1,2,3,4,5,6,7],"tickCount":20,"format":"d","labelOverlap":false,"title":null,"tickSize":3,"labelPadding":2,"labelFontSize":12}},
"fill":{"field":"group","type":"nominal","scale":{"domain":["WT","Δsht"],"range":["#9b9b9b","#2a9020"]},"legend":null},
"shape":{"field":"group","type":"nominal","scale":{"domain":["WT","Δsht"],"range":["circle","triangle-up"]},"legend":null},
"size":{"field":"group","type":"nominal","scale":{"domain":["WT","Δsht"],"range":[80,105]},"legend":null}}},
{"data":{"name":"stats"},"transform":[{"filter":"datum.organ==='Kidneys'"}],"mark":{"type":"rule","color":"#000","strokeWidth":1.2},"encoding":{"x":{"field":"group","type":"nominal"},"y":{"field":"q1","type":"quantitative"},"y2":{"field":"q3"}}},
{"data":{"name":"stats"},"transform":[{"filter":"datum.organ==='Kidneys'"}],"mark":{"type":"tick","size":18,"thickness":1.3,"color":"#000"},"encoding":{"x":{"field":"group","type":"nominal"},"y":{"field":"q1","type":"quantitative"}}},
{"data":{"name":"stats"},"transform":[{"filter":"datum.organ==='Kidneys'"}],"mark":{"type":"tick","size":18,"thickness":1.3,"color":"#000"},"encoding":{"x":{"field":"group","type":"nominal"},"y":{"field":"q3","type":"quantitative"}}},
{"data":{"name":"stats"},"transform":[{"filter":"datum.organ==='Kidneys'"}],"mark":{"type":"tick","size":36,"thickness":2,"color":"#000"},"encoding":{"x":{"field":"group","type":"nominal"},"y":{"field":"median","type":"quantitative"}}}
]},
{"width":140,"height":173,"title":{"text":"Bladder","offset":17,"fontWeight":"normal"},
"layer":[
{"data":{"values":[{}]},"mark":{"type":"rule","strokeDash":[2,2],"color":"#000","strokeWidth":1},"encoding":{"y":{"datum":1,"type":"quantitative"}}},
{"data":{"name":"pts"},"transform":[{"filter":"datum.organ==='Bladder'"}],"mark":{"type":"point","filled":true,"stroke":"#333","strokeWidth":0.8,"opacity":1},
"encoding":{"x":{"field":"group","type":"nominal","scale":{"type":"band","domain":["WT","mid","Δsht"],"paddingInner":0,"paddingOuter":0.833},"axis":{"values":["WT","Δsht"],"title":null,"ticks":false,"labelAngle":0,"labelPadding":4,"labelFontSize":13,"labelFontStyle":{"condition":{"test":"datum.value==='Δsht'","value":"italic"},"value":"normal"}}},
"xOffset":{"field":"slot","type":"quantitative","scale":{"domain":[-2.2,2.2],"range":[-7,37]}},
"y":{"field":"value","type":"quantitative","scale":{"domain":[0,7],"nice":false},"axis":{"values":[0,1,2,3,4,5,6,7],"tickCount":20,"format":"d","labelOverlap":false,"title":null,"tickSize":3,"labelPadding":2,"labelFontSize":12}},
"fill":{"field":"group","type":"nominal","scale":{"domain":["WT","Δsht"],"range":["#9b9b9b","#2a9020"]},"legend":null},
"shape":{"field":"group","type":"nominal","scale":{"domain":["WT","Δsht"],"range":["circle","triangle-up"]},"legend":null},
"size":{"field":"group","type":"nominal","scale":{"domain":["WT","Δsht"],"range":[80,105]},"legend":null}}}
]}
],"spacing":22}
],"spacing":4}
],"spacing":20,"center":true
}
